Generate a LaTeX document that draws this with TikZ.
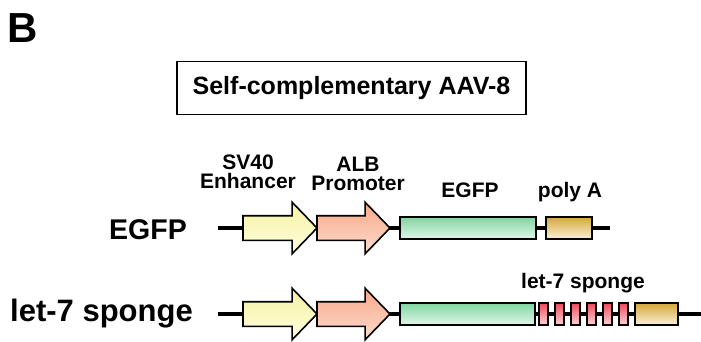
\documentclass[tikz,border=0pt]{standalone}
\usepackage{fontspec}
\setmainfont{Liberation Sans}
\usetikzlibrary{positioning,shapes.arrows}
\definecolor{enhYellow}{HTML}{F5F2A2}
\definecolor{enhYellowLt}{HTML}{FFFFDE}
\definecolor{promSalmon}{HTML}{F7A889}
\definecolor{promSalmonLt}{HTML}{FDDCCD}
\definecolor{gfpGreen}{HTML}{7FD6A0}
\definecolor{gfpGreenLt}{HTML}{E2F6EA}
\definecolor{pAGold}{HTML}{D6A73A}
\definecolor{pAGoldLt}{HTML}{FBF0DA}
\definecolor{siteRed}{HTML}{EE4A5A}
\definecolor{siteRedLt}{HTML}{FDD4D9}

\begin{document}
\begin{tikzpicture}[x=1pt, y=-1pt,
        backbone/.style={line width=4.5pt, black},
        element/.style={draw=black, line width=1.6pt, inner sep=0pt, outer sep=0pt, minimum height=22pt},
        promarrow/.style={draw=black, line width=1.6pt, outer sep=0pt, inner xsep=0pt, inner ysep=11.5pt,
            single arrow, single arrow head extend=13.5pt, single arrow tip angle=92,
            minimum width=50pt, minimum height=#1},
        gene/.style={element, top color=gfpGreen, bottom color=gfpGreenLt, minimum width=#1},
        polya/.style={element, top color=pAGold, bottom color=pAGoldLt, minimum width=#1},
        site/.style={element, top color=siteRed, bottom color=siteRedLt, minimum width=9pt, line width=1.3pt},
        lbl/.style={font=\fontsize{21}{19}\selectfont\bfseries, align=center, inner sep=0pt},
        rowlbl/.style={font=\fontsize{#1}{30}\selectfont\bfseries, inner sep=0pt}
    ]
        \useasboundingbox (0,0) rectangle (701,341);

        \node[font=\fontsize{42}{46}\selectfont\bfseries, anchor=base west, inner sep=0pt] (panel) at (7,42) {B};
        \node[draw, line width=1.3pt, minimum width=349pt, minimum height=53pt,
              font=\fontsize{25}{28}\selectfont\bfseries] (vector) at (351.5,88) {Self-complementary AAV-8};

        % EGFP construct
        \coordinate (egfpL) at (218,228);
        \coordinate (egfpR) at (610,228);
        \draw[backbone] (egfpL) -- (egfpR);
        \node[promarrow=74pt, top color=enhYellow, bottom color=enhYellowLt, anchor=tail] (sv1) at (243,228) {};
        \node[promarrow=73pt, top color=promSalmon, bottom color=promSalmonLt, anchor=tail] (alb1) at (sv1.tip) {};
        \node[gene=136pt, anchor=west] (gfp1) at (400,228) {};
        \node[polya=46pt, right=10pt of gfp1] (pa1) {};

        % sponge construct
        \coordinate (spgL) at (218,314);
        \coordinate (spgR) at (701,314);
        \draw[backbone] (spgL) -- (spgR);
        \node[promarrow=74pt, top color=enhYellow, bottom color=enhYellowLt, anchor=tail] (sv2) at (243,314) {};
        \node[promarrow=73pt, top color=promSalmon, bottom color=promSalmonLt, anchor=tail] (alb2) at (sv2.tip) {};
        \node[gene=135pt, anchor=west] (gfp2) at (400,314) {};
        \node[site, right=4pt of gfp2] (s1) {};
        \foreach \i [evaluate=\i as \k using int(\i-1)] in {2,...,6}
            \node[site, right=7pt of s\k] (s\i) {};
        \node[polya=43pt, right=7pt of s6] (pa2) {};

        % element labels
        \node[lbl] (svlbl) at (248,172) {SV40\\Enhancer};
        \node[lbl] (alblbl) at (358,174) {ALB\\Promoter};
        \node[lbl, anchor=base] (gfplbl) at (470,197) {EGFP};
        \node[lbl, anchor=base] (palbl) at (570,197) {poly A};
        \node[lbl, anchor=base] (spglbl) at (583,288) {let-7 sponge};

        \node[rowlbl=28.5, anchor=base east] (row1) at (187,239) {EGFP};
        \node[rowlbl=31, anchor=base east] (row2) at (193,321) {let-7 sponge};
    \end{tikzpicture}
\end{document}
